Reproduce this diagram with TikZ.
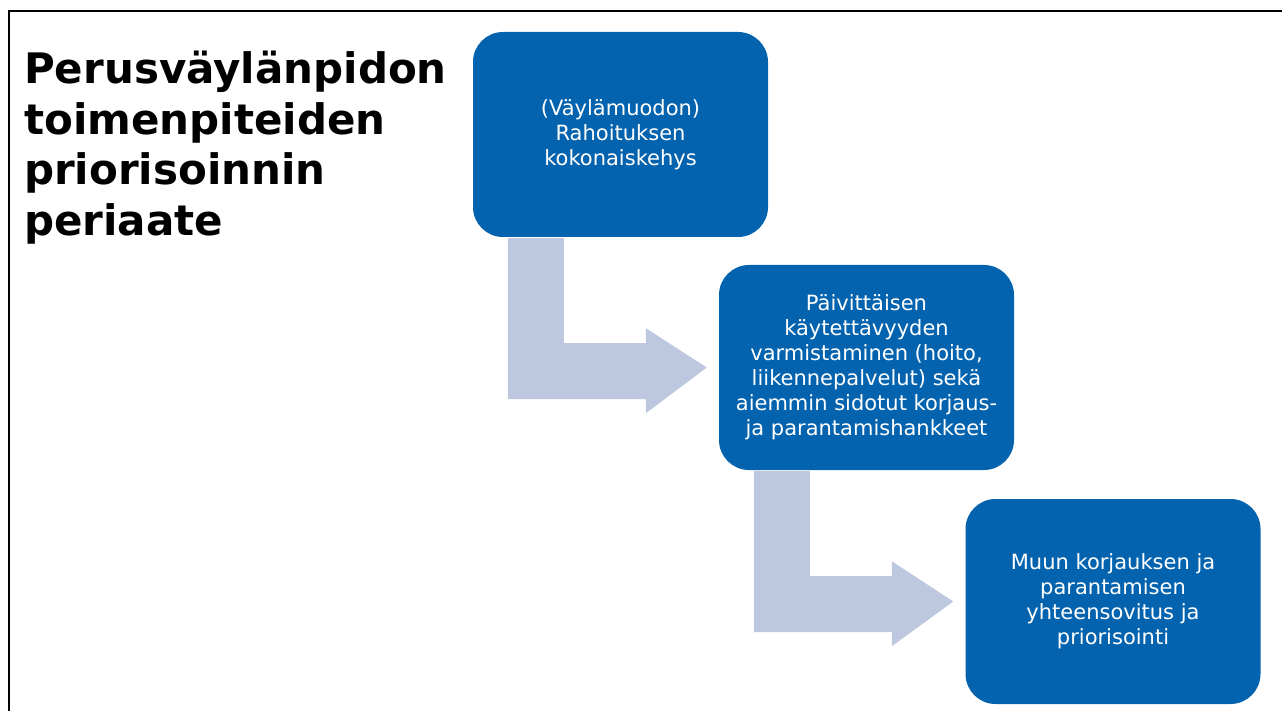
\documentclass[tikz,border=0pt]{standalone}
\usepackage{fontspec}
\setmainfont{DejaVu Sans}
\usetikzlibrary{calc}
\definecolor{boxblue}{RGB}{4,99,174}
\definecolor{arrowgrey}{RGB}{189,199,223}
\tikzset{
  stepbox/.style={fill=boxblue, draw=none, rounded corners=30pt, minimum width=295pt, minimum height=205pt, text=white, align=center, font=\fontsize{21}{25}\selectfont, inner sep=0pt},
  blockarrow/.style={fill=arrowgrey, draw=none},
  frameline/.style={line width=2pt, black}
}
\begin{document}
\begin{tikzpicture}[x=1pt,y=-1pt]
\useasboundingbox (0,0) rectangle (1282,711);
\draw[frameline] (9,711) -- (9,11) -- (1282,11);
\node[anchor=north west, align=left, inner sep=0pt, font=\fontsize{42}{50.5}\selectfont\bfseries] (title) at (24,51) {Perusväylänpidon\\toimenpiteiden\\priorisoinnin\\periaate};
\node[stepbox] (b1) at (620.5,134.5) {(Väylämuodon)\\Rahoituksen\\kokonaiskehys};
\node[stepbox] (b2) at (866.5,367.5) {Päivittäisen\\käytettävyyden\\varmistaminen (hoito,\\liikennepalvelut) sekä\\aiemmin sidotut korjaus-\\ja parantamishankkeet};
\node[stepbox] (b3) at (1113,601.5) {Muun korjauksen ja\\parantamisen\\yhteensovitus ja\\priorisointi};
\fill[blockarrow] ($(b1.south west)+(35,1)$) -- ($(b1.south west)+(91,1)$) -- ($(b1.south west)+(91,106)$) -- ($(b1.south west)+(173,106)$) -- ($(b1.south west)+(173,91)$) -- ($(b2.west)+(-12,0)$) -- ($(b1.south west)+(173,176)$) -- ($(b1.south west)+(173,162)$) -- ($(b1.south west)+(35,162)$) -- cycle;
\fill[blockarrow] ($(b2.south west)+(35,1)$) -- ($(b2.south west)+(91,1)$) -- ($(b2.south west)+(91,106)$) -- ($(b2.south west)+(173,106)$) -- ($(b2.south west)+(173,91)$) -- ($(b3.west)+(-12,0)$) -- ($(b2.south west)+(173,176)$) -- ($(b2.south west)+(173,162)$) -- ($(b2.south west)+(35,162)$) -- cycle;
\end{tikzpicture}
\end{document}
